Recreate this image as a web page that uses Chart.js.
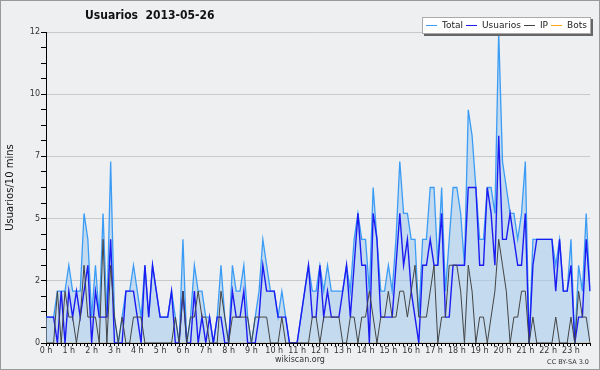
<!DOCTYPE html>
<html>
<head>
<meta charset="utf-8">
<script src="https://cdn.jsdelivr.net/npm/chart.js@4.4.0/dist/chart.umd.min.js"></script>
<style>
body { margin: 0; background: #eeeeee; }
#wrap { position: relative; width: 600px; height: 370px; background: #eeeff1; }
#frame { position: absolute; left: 0; top: 0; width: 600px; height: 370px; box-sizing: border-box; border: 1px solid #9a9a9a; pointer-events: none; }
#title { position: absolute; left: 85px; top: 8px; font-family: "DejaVu Sans Condensed", "DejaVu Sans"; font-stretch: condensed; font-weight: bold; font-size: 12px; color: #111; white-space: pre; }
#legend { position: absolute; left: 422px; top: 17px; width: 167px; height: 15px; background: #fff; border: 1px solid #aaa; box-shadow: 2px 2px 0 #666; font: 9px "DejaVu Sans"; color: #222; line-height: 15px; white-space: nowrap; }
#legend span.ln { display: inline-block; width: 11px; height: 1px; vertical-align: middle; margin: 0 5px 0 3px; }
#site { position: absolute; left: 0; width: 600px; top: 355px; text-align: center; font: 8px "DejaVu Sans"; color: #333; }
#lic { position: absolute; right: 11px; top: 358px; font: 6.5px "DejaVu Sans"; color: #333; }
</style>
</head>
<body>
<div id="wrap">
  <canvas id="mycanvas" width="600" height="370"></canvas>
  <div id="title">Usuarios  2013-05-26</div>
  <div id="legend"></div>
  <div id="site">wikiscan.org</div>
  <div id="lic">CC BY-SA 3.0</div>
  <div id="frame"></div>
</div>
<script>
// one value per 10 minutes, 144 slots
var hours = ['0 h','1 h','2 h','3 h','4 h','5 h','6 h','7 h','8 h','9 h','10 h','11 h',
             '12 h','13 h','14 h','15 h','16 h','17 h','18 h','19 h','20 h','21 h','22 h','23 h'];
var yTickLabels = ['0', '2', '5', '7', '10', '12'];

var total = [1,1,1,2,2,2, 3,2,2,2,5,4, 1,3,1,5,1,7, 1,0,1,2,2,3, 2,1,3,1,3,2,
             1,1,1,2,1,0, 4,0,1,3,2,2, 1,1,0,1,3,1, 0,3,2,2,3,1, 0,1,2,4,3,2,
             2,1,2,1,0,0, 0,1,2,3,2,2, 3,2,3,2,2,2, 2,3,2,4,5,4, 4,2,6,4,2,2,
             3,2,4,7,5,5, 4,4,1,4,4,6, 6,3,6,2,4,6, 6,5,3,9,8,6, 4,4,6,6,5,12,
             7,6,5,5,4,5, 7,0,4,4,4,4, 4,4,3,4,2,2, 4,0,3,2,5,2];
var usuarios = [1,1,1,0,2,0, 2,1,2,1,2,3, 0,2,1,1,1,4, 0,0,0,2,2,2, 1,0,3,1,3,2,
                1,1,1,2,0,0, 2,0,0,2,0,1, 0,1,0,1,1,0, 0,2,1,1,2,0, 0,0,1,3,2,2,
                2,1,1,1,0,0, 0,1,2,3,1,1, 3,1,2,1,1,1, 2,3,1,3,5,3, 3,0,5,4,1,1,
                1,1,3,5,3,4, 2,1,0,3,3,4, 3,3,5,1,1,3, 3,3,3,6,6,6, 3,3,6,5,3,8,
                4,4,5,4,3,3, 5,0,3,4,4,4, 4,4,2,4,2,2, 3,0,1,1,4,2];
var ip = [0,0,0,2,0,2, 1,1,0,1,3,1, 1,1,0,4,0,3, 1,0,1,0,0,1, 1,1,0,0,0,0,
          0,0,0,0,1,0, 2,0,1,1,2,1, 1,0,0,0,2,1, 0,1,1,1,1,1, 0,1,1,1,1,0,
          0,0,1,0,0,0, 0,0,0,0,1,1, 0,1,1,1,1,1, 0,0,1,1,0,1, 1,2,1,0,1,1,
          2,1,1,2,2,1, 2,3,1,1,1,2, 3,0,1,1,3,3, 3,2,0,3,2,0, 1,1,0,1,2,4,
          3,2,0,1,1,2, 2,0,1,0,0,0, 0,0,1,0,0,0, 1,0,2,1,1,0];
var bots = [0,0,0,0,0,0, 0,0,0,0,0,0, 0,0,0,0,0,0, 0,0,0,0,0,0, 0,0,0,0,0,0,
            0,0,0,0,0,0, 0,0,0,0,0,0, 0,0,0,0,0,0, 0,0,0,0,0,0, 0,0,0,0,0,0,
            0,0,0,0,0,0, 0,0,0,0,0,0, 0,0,0,0,0,0, 0,0,0,0,0,0, 0,0,0,0,0,0,
            0,0,0,0,0,0, 0,0,0,0,0,0, 0,0,0,0,0,0, 0,0,0,0,0,0, 0,0,0,0,0,0,
            0,0,0,0,0,0, 0,0,0,0,0,0, 0,0,0,0,0,0, 0,0,0,0,0,0];

var slots = [];
for (var h = 0; h < 24; h++) {
    for (var m = 0; m < 6; m++) {
        slots.push(h + ':' + m + '0');
    }
}

var chartdata = {
    labels: slots,
    datasets: [{
        label: 'Total',
        data: total,
        borderColor: '#3a9cf5',
        backgroundColor: 'rgba(160,200,236,0.55)',
        borderWidth: 1.3,
        fill: 'origin',
        order: 2
    }, {
        label: 'Usuarios',
        data: usuarios,
        borderColor: '#1c1cf2',
        borderWidth: 1.4,
        fill: false,
        order: 1
    }, {
        label: 'IP',
        data: ip,
        borderColor: '#444444',
        borderWidth: 1,
        fill: false,
        order: 0
    }, {
        label: 'Bots',
        data: bots,
        borderColor: '#ffa31a',
        borderWidth: 1,
        fill: false,
        order: 3
    }]
};

var ctx = document.getElementById('mycanvas');

var usersGraph = new Chart(ctx, {
    type: 'line',
    data: chartdata,
    options: {
        responsive: false,
        animation: false,
        layout: { padding: { top: 32, right: 10, left: 0, bottom: 0 } },
        elements: { point: { radius: 0 }, line: { tension: 0 } },
        plugins: { legend: { display: false }, tooltip: { enabled: false } },
        scales: {
            x: {
                z: 1,
                offset: false,
                grid: { drawOnChartArea: false, tickLength: 3, tickColor: '#000', offset: false },
                border: { color: '#000', width: 1 },
                ticks: {
                    autoSkip: false, maxRotation: 0, padding: 0,
                    font: { family: 'DejaVu Sans', size: 8 }, color: '#333',
                    callback: function(v, i) { return i % 6 === 0 ? hours[i / 6] : ''; }
                },
                afterFit: function(scale) { scale.height = 27; }
            },
            y: {
                min: 0, max: 12,
                border: { color: '#000', width: 1 },
                grid: {
                    tickLength: 5, tickColor: '#000',
                    color: function(c) { return (c.index % 4 === 0 && c.index > 0) ? '#c9c9c9' : 'rgba(0,0,0,0)'; }
                },
                ticks: {
                    stepSize: 0.6, autoSkip: false, padding: 1,
                    font: { family: 'DejaVu Sans', size: 8 }, color: '#333',
                    callback: function(v, i) { return i % 4 === 0 ? yTickLabels[i / 4] : ''; }
                },
                title: {
                    display: true, text: 'Usuarios/10 mins', padding: { top: 4, bottom: 0 },
                    font: { family: 'DejaVu Sans', size: 10 }, color: '#111'
                },
                afterFit: function(scale) { scale.width = 46; }
            }
        }
    }
});

// legend built from the datasets
var lg = document.getElementById('legend');
chartdata.datasets.forEach(function(ds) {
    var s = document.createElement('span');
    s.className = 'ln';
    s.style.background = ds.borderColor;
    lg.appendChild(s);
    lg.appendChild(document.createTextNode(ds.label));
});
</script>
</body>
</html>
